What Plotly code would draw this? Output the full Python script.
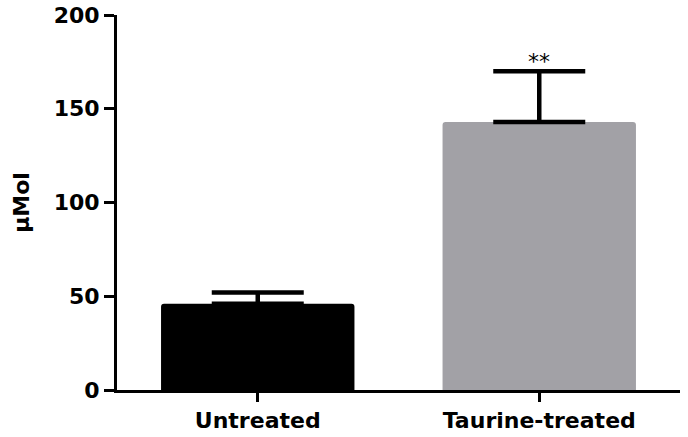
import plotly.graph_objects as go

groups = ["Untreated", "Taurine-treated"]
means = [46, 143]
sem = [6, 27]
bar_colors = ["#000000", "#a2a1a6"]
y_ticks = [0, 50, 100, 150, 200]

fig = go.Figure()

fig.add_trace(go.Bar(
    x=groups,
    y=means,
    marker=dict(color=bar_colors, line=dict(width=0), cornerradius=3),
    error_y=dict(
        type="data",
        array=sem,
        arrayminus=[0, 0],
        symmetric=False,
        color="black",
        thickness=4.5,
        width=46,
    ),
    showlegend=False,
))

# significance marker above the treated group
fig.add_annotation(
    x=groups[1], y=means[1] + sem[1],
    text="**", showarrow=False,
    yanchor="bottom", yshift=-5,
    font=dict(family="DejaVu Sans", size=22, color="black"),
)

fig.update_layout(
    width=688,
    height=437,
    bargap=0.313,
    plot_bgcolor="white",
    paper_bgcolor="white",
    font=dict(family="DejaVu Sans", color="black"),
    margin=dict(l=117, r=8, t=15, b=47, autoexpand=False),
)

fig.update_xaxes(
    range=[-0.5, 1.5],
    showline=True, linecolor="black", linewidth=3,
    ticks="outside", ticklen=9, tickwidth=3, tickcolor="black",
    tickfont=dict(family="DejaVu Sans", size=22, color="black", weight="bold"),
    showgrid=False,
)

fig.update_yaxes(
    range=[0, 200],
    tickvals=y_ticks,
    showline=True, linecolor="black", linewidth=3,
    ticks="outside", ticklen=10, tickwidth=3, tickcolor="black",
    tickfont=dict(family="DejaVu Sans", size=22, color="black", weight="bold"),
    showgrid=False, zeroline=False,
    title=dict(text="μMol", standoff=18,
               font=dict(family="DejaVu Sans", size=22, color="black", weight="bold")),
)

# drop the default body margin so the figure fills the window
fig.write_html(
    "out.html",
    config={"displayModeBar": False},
    post_script="document.body.style.margin='0';",
)
